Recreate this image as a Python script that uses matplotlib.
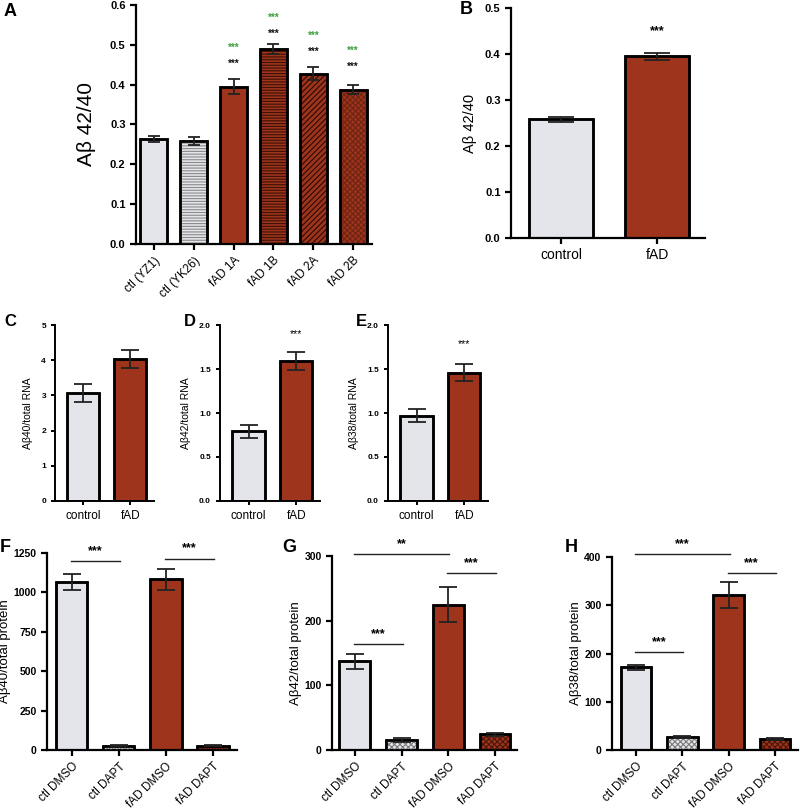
import matplotlib.pyplot as plt
import numpy as np

plt.rcParams['font.family'] = ['Liberation Sans', 'DejaVu Sans']
plt.rcParams['hatch.linewidth'] = 0.8

GREY = '#e3e5ea'
RED = '#9d341b'

# Panel A: Abeta 42/40 per line
a_labels = ['ctl (YZ1)', 'ctl (YK26)', 'fAD 1A', 'fAD 1B', 'fAD 2A', 'fAD 2B']
a_vals = [0.263, 0.258, 0.395, 0.490, 0.428, 0.387]
a_err = [0.007, 0.010, 0.018, 0.013, 0.016, 0.011]

# Panel B: pooled
b_labels = ['control', 'fAD']
b_vals = [0.258, 0.395]
b_err = [0.005, 0.008]

# Panels C-E: per total RNA
ce_labels = ['control', 'fAD']
c_vals = [3.07, 4.04]
c_err = [0.26, 0.25]
d_vals = [0.79, 1.59]
d_err = [0.07, 0.10]
e_vals = [0.97, 1.46]
e_err = [0.075, 0.10]

# Panels F-H: DAPT treatment
fh_labels = ['ctl DMSO', 'ctl DAPT', 'fAD DMSO', 'fAD DAPT']
f_vals = [1065, 28, 1083, 28]
f_err = [50, 3, 65, 3]
g_vals = [137, 16, 225, 24]
g_err = [12, 3, 27, 3]
h_vals = [171, 26, 322, 22]
h_err = [6, 2, 27, 2]

fig = plt.figure(figsize=(8, 8.1), dpi=100)


def add_ax(x0, x1, y0, y1):
    return fig.add_axes([x0 / 800, 1 - y1 / 810, (x1 - x0) / 800, (y1 - y0) / 810])


def style(ax, lw=1.6):
    for s in ['top', 'right']:
        ax.spines[s].set_visible(False)
    for s in ['left', 'bottom']:
        ax.spines[s].set_linewidth(lw)
    ax.tick_params(width=lw, length=4)


def bars(ax, vals, errs, colors, hatches, hcolors, width, capsize, elw=1.3):
    x = np.arange(len(vals))
    ax.bar(x, vals, width, color=colors, edgecolor='black', linewidth=1.8, zorder=2)
    for xi, v, h, hc in zip(x, vals, hatches, hcolors):
        if h:
            ax.bar(xi, v, width * 0.94, color='none', edgecolor=hc, hatch=h,
                   linewidth=0, zorder=3)
    ax.bar(x, vals, width, color='none', edgecolor='black', linewidth=1.8, zorder=4)
    ax.errorbar(x, vals, yerr=errs, fmt='none', ecolor='#222222', elinewidth=elw,
                capsize=capsize, capthick=elw, zorder=5)
    return x


# ---- Panel A ----
ax = add_ax(136, 372, 5, 244)
x = bars(ax, a_vals, a_err, [GREY, GREY, RED, RED, RED, RED],
         [None, '------', None, '------', '//////', 'xxxxxx'],
         [None, '#8a8a8a', None, '#3b1108', '#2a0c05', '#6e2412'], 0.68, 4.5)
ax.set_xlim(-0.45, 5.475)
ax.set_ylim(0, 0.6)
ax.set_yticks(np.arange(0, 0.61, 0.1))
ax.set_yticklabels([f'{t:.1f}' for t in np.arange(0, 0.61, 0.1)], fontweight='bold', fontsize=8)
ax.set_xticks(x)
ax.set_xticklabels(a_labels, rotation=45, ha='right', rotation_mode='anchor', fontsize=8.5)
ax.set_ylabel('Aβ 42/40', fontsize=15, labelpad=10)
style(ax)
black_y = [0.452, 0.528, 0.483, 0.445]
green_y = [0.492, 0.569, 0.523, 0.485]
for xi, by, gy in zip(x[2:], black_y, green_y):
    ax.text(xi, by, '***', ha='center', va='center', fontsize=7, fontweight='bold', color='#111111')
    ax.text(xi, gy, '***', ha='center', va='center', fontsize=7, fontweight='bold', color='#3fa040')
fig.text(4 / 800, 1 - 12 / 810, 'A', fontsize=13, fontweight='bold', va='center')

# ---- Panel B ----
ax = add_ax(511, 705, 8, 238)
x = bars(ax, b_vals, b_err, [GREY, RED], [None, None], [None, None], 0.67, 9.5)
ax.set_xlim(-0.52, 1.5)
ax.set_ylim(0, 0.5)
ax.set_yticks(np.arange(0, 0.51, 0.1))
ax.set_yticklabels([f'{t:.1f}' for t in np.arange(0, 0.51, 0.1)], fontweight='bold', fontsize=8)
ax.set_xticks(x)
ax.set_xticklabels(b_labels, fontsize=10)
ax.set_ylabel('Aβ 42/40', fontsize=10.5, labelpad=6)
style(ax)
ax.text(1, 0.45, '***', ha='center', va='center', fontsize=9, fontweight='bold')
fig.text(460 / 800, 1 - 10 / 810, 'B', fontsize=13, fontweight='bold', va='center')

# ---- Panels C-E ----
narrow = ['Liberation Sans Narrow', 'Liberation Sans', 'DejaVu Sans']
row2 = [
    ('C', 4, 55, 154, c_vals, c_err, 5, np.arange(0, 6, 1), '{:.0f}', 'Aβ40/total RNA', None),
    ('D', 184, 220, 320, d_vals, d_err, 2.0, np.arange(0, 2.01, 0.5), '{:.1f}', 'Aβ42/total RNA', 1.9),
    ('E', 356, 388, 488, e_vals, e_err, 2.0, np.arange(0, 2.01, 0.5), '{:.1f}', 'Aβ38/total RNA', 1.78),
]
for letter, lx, x0, x1, vals, errs, ymax, yt, fmt, ylab, star in row2:
    ax = add_ax(x0, x1, 325, 501)
    x = bars(ax, vals, errs, [GREY, RED], [None, None], [None, None], 0.68, 6.5)
    ax.set_xlim(-0.6, 1.5)
    ax.set_ylim(0, ymax)
    ax.set_yticks(yt)
    ax.set_yticklabels([fmt.format(t) for t in yt], fontsize=6, fontweight='bold', family=narrow)
    ax.set_xticks(x)
    ax.set_xticklabels(ce_labels, fontsize=8.5, family=narrow)
    ax.set_ylabel(ylab, fontsize=7.5, labelpad=6)
    style(ax, 1.4)
    ax.tick_params(length=3)
    if star:
        ax.text(1, star, '***', ha='center', va='center', fontsize=7.5, family=narrow)
    fig.text(lx / 800, 1 - 321 / 810, letter, fontsize=12, fontweight='bold', va='center', family=narrow)

# ---- Panels F-H ----
row3 = [
    ('F', 0, 47, 237, 553, f_vals, f_err, 1250, np.arange(0, 1251, 250), 'Aβ40/total protein', (-0.53, 3.51),
     [(0, 1, 1200, '***'), (2, 3, 1215, '***')]),
    ('G', 282, 332, 517, 556, g_vals, g_err, 300, np.arange(0, 301, 100), 'Aβ42/total protein', (-0.49, 3.47),
     [(0, 2, 303, '**'), (2, 3, 274, '***'), (0, 1, 164, '***')]),
    ('H', 565, 612, 798, 557, h_vals, h_err, 400, np.arange(0, 401, 100), 'Aβ38/total protein', (-0.52, 3.5),
     [(0, 2, 406, '***'), (2, 3, 367, '***'), (0, 1, 203, '***')]),
]
for letter, lx, x0, x1, y0, vals, errs, ymax, yt, ylab, xl, sig in row3:
    ax = add_ax(x0, x1, y0, 750)
    x = bars(ax, vals, errs, [GREY, GREY, RED, RED],
             [None, 'xxxxxx', None, 'xxxxxx'], [None, '#7a7a7a', None, '#4a160a'], 0.66, 6.5)
    ax.set_xlim(*xl)
    ax.set_ylim(0, ymax)
    ax.set_yticks(yt)
    ax.set_yticklabels([str(t) for t in yt], fontsize=7.5, fontweight='bold')
    ax.set_xticks(x)
    ax.set_xticklabels(fh_labels, rotation=45, ha='right', rotation_mode='anchor', fontsize=8.5)
    ax.set_ylabel(ylab, fontsize=9.5, labelpad=2)
    style(ax)
    for i, j, yv, s in sig:
        ax.plot([x[i] - 0.02, x[j] + 0.02], [yv, yv], color='#222222', lw=1.0, clip_on=False)
        ax.text((x[i] + x[j]) / 2, yv + ymax * 0.02, s, ha='center', va='bottom',
                fontsize=9, fontweight='bold')
    fig.text(lx / 800, 1 - 548 / 810, letter, fontsize=13, fontweight='bold', va='center')

fig.savefig('out.png', dpi=100)
